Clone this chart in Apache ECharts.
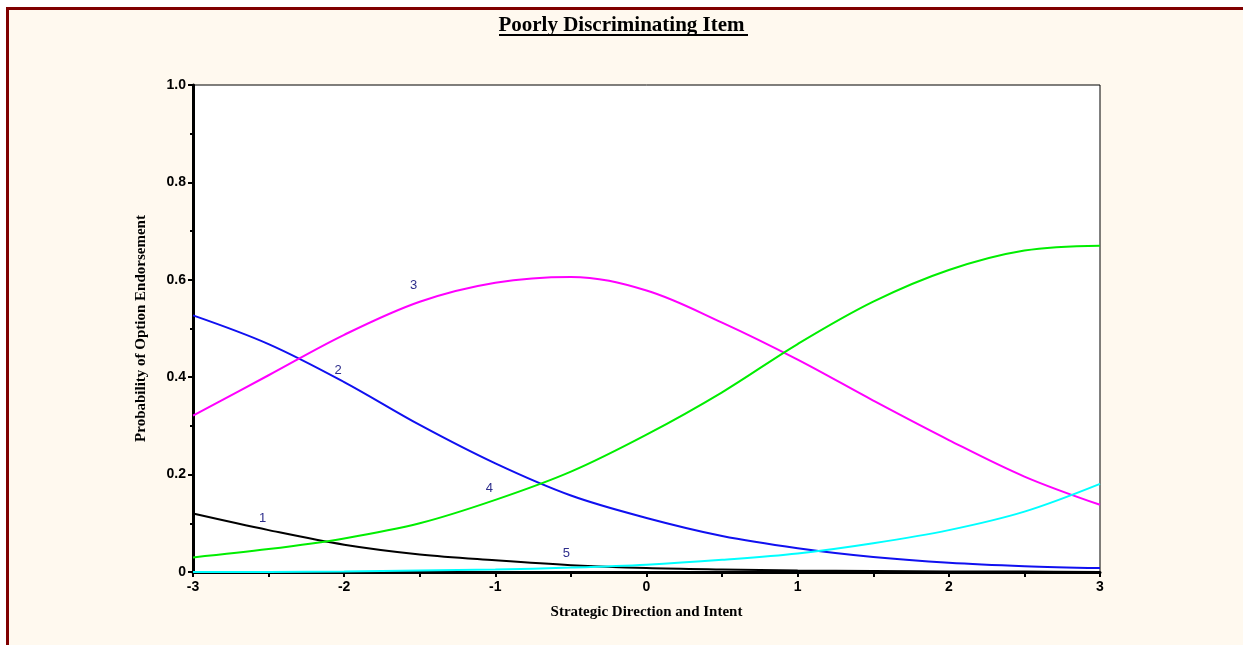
<!DOCTYPE html>
<html>
<head>
<meta charset="utf-8">
<script src="https://cdn.jsdelivr.net/npm/echarts@6/dist/echarts.min.js"></script>
<style>
  html, body { margin: 0; padding: 0; background: #fff; }
  #frame {
    position: absolute; left: 6px; top: 7px; width: 1300px; height: 700px;
    border-top: 3px solid #800000; border-left: 3px solid #800000;
    background: #FFF9EF;
  }
  #main { position: absolute; left: 0; top: 0; width: 1243px; height: 645px; }
</style>
</head>
<body>
<div id="frame"></div>
<div id="main"></div>
<script>
'use strict';

// ability scale (theta) and option curves
var thetas = [-3, -2.5, -2, -1.5, -1, -0.5, 0, 0.5, 1, 1.5, 2, 2.5, 3];
var option1 = [0.120, 0.086, 0.056, 0.036, 0.024, 0.014, 0.008, 0.005, 0.003, 0.002, 0.001, 0.001, 0.000];
var option2 = [0.527, 0.468, 0.390, 0.302, 0.223, 0.157, 0.111, 0.074, 0.049, 0.031, 0.019, 0.012, 0.008];
var option3 = [0.321, 0.404, 0.487, 0.555, 0.594, 0.606, 0.578, 0.512, 0.436, 0.352, 0.271, 0.196, 0.138];
var option4 = [0.030, 0.047, 0.069, 0.100, 0.148, 0.206, 0.282, 0.369, 0.468, 0.555, 0.620, 0.660, 0.670];
var option5 = [0.000, 0.000, 0.001, 0.003, 0.005, 0.009, 0.015, 0.025, 0.038, 0.059, 0.086, 0.124, 0.181];

var optionNames = ['1', '2', '3', '4', '5'];
var optionColors = ['#000000', '#1010F0', '#FF00FF', '#00EE00', '#00FFFF'];
// where each option number sits on the chart [theta, prob]
var labelSpots = [[-2.54, 0.111], [-2.04, 0.413], [-1.54, 0.589], [-1.04, 0.172], [-0.53, 0.039]];

var allValues = [option1, option2, option3, option4, option5];

function pairs(vals) {
    return thetas.map(function (t, i) { return [t, vals[i]]; });
}

var chart = echarts.init(document.getElementById('main'));

var series = allValues.map(function (vals, k) {
    return {
        name: optionNames[k],
        type: 'line',
        data: pairs(vals),
        smooth: 0.35,
        showSymbol: false,
        lineStyle: { color: optionColors[k], width: 2 },
        z: 3 + k,
        silent: true,
        markPoint: {
            symbol: 'circle',
            symbolSize: 0,
            silent: true,
            label: {
                show: true,
                formatter: optionNames[k],
                color: '#2E2E8C',
                fontFamily: 'Liberation Sans',
                fontSize: 13,
                position: 'inside'
            },
            data: [{ coord: labelSpots[k] }]
        }
    };
});

chart.setOption({
    backgroundColor: 'transparent',
    animation: false,
    grid: {
        left: 193,
        right: 143,
        top: 85,
        bottom: 73,
        show: true,
        backgroundColor: '#ffffff',
        borderColor: '#000',
        borderWidth: 1
    },
    graphic: [
        {
            type: 'text',
            left: 'center',
            top: 15,
            style: {
                text: 'Poorly Discriminating Item',
                font: 'bold 21px "Liberation Serif"',
                fill: '#000'
            }
        },
        {
            type: 'rect',
            shape: { x: 499, y: 34, width: 249, height: 2 },
            style: { fill: '#000' }
        }
    ],
    xAxis: {
        type: 'value',
        min: -3,
        max: 3,
        interval: 1,
        name: 'Strategic Direction and Intent',
        nameLocation: 'middle',
        nameGap: 33,
        nameTextStyle: { fontFamily: 'Liberation Serif', fontWeight: 'bold', fontSize: 15, color: '#000' },
        axisLine: { onZero: false, lineStyle: { color: '#000', width: 3 } },
        axisTick: { show: true, length: 5, lineStyle: { color: '#000', width: 2 } },
        minorTick: { show: true, splitNumber: 2, length: 5, lineStyle: { color: '#000', width: 2 } },
        splitLine: { show: false },
        axisLabel: {
            fontFamily: 'Liberation Sans', fontWeight: 'bold', fontSize: 14, color: '#000', margin: 8
        }
    },
    yAxis: {
        type: 'value',
        min: 0,
        max: 1,
        interval: 0.2,
        name: 'Probability of Option Endorsement',
        nameLocation: 'middle',
        nameGap: 44,
        nameTextStyle: { fontFamily: 'Liberation Serif', fontWeight: 'bold', fontSize: 15, color: '#000' },
        axisLine: { show: true, onZero: false, lineStyle: { color: '#000', width: 3 } },
        axisTick: { show: true, length: 5, lineStyle: { color: '#000', width: 2 } },
        minorTick: { show: true, splitNumber: 2, length: 3, lineStyle: { color: '#000', width: 2 } },
        splitLine: { show: false },
        axisLabel: {
            fontFamily: 'Liberation Sans', fontWeight: 'bold', fontSize: 14, color: '#000', margin: 7,
            formatter: function (v) { return v === 0 ? '0' : v.toFixed(1); }
        }
    },
    series: series
});
</script>
</body>
</html>
